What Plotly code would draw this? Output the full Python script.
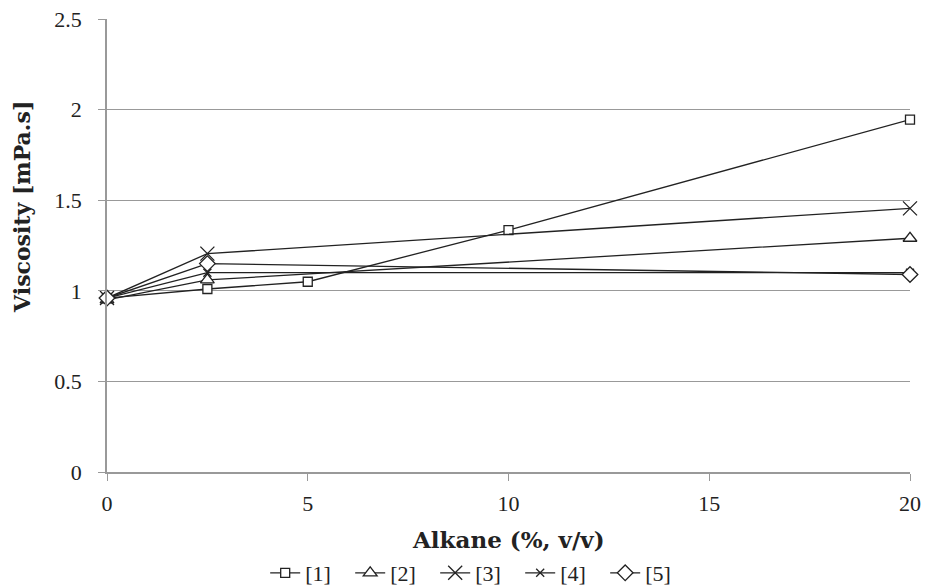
import plotly.graph_objects as go

x_full = [0, 2.5, 5, 10, 20]
x_short = [0, 2.5, 20]
s1 = [0.96, 1.01, 1.05, 1.335, 1.945]
s2 = [0.95, 1.06, 1.29]
s3 = [0.96, 1.205, 1.455]
s4 = [0.96, 1.10, 1.10]
s5 = [0.96, 1.15, 1.09]
names = ["[1]", "[2]", "[3]", "[4]", "[5]"]
y_ticks = [0, 0.5, 1, 1.5, 2, 2.5]
y_tick_text = ["0", "0.5", "1", "1.5", "2", "2.5"]
x_ticks = [0, 5, 10, 15, 20]
x_title = "<b>Alkane (%, v/v)</b>"
y_title = "<b>Viscosity [mPa.s]</b>"

FONT = "Liberation Serif"
TFONT = "DejaVu Serif"
LC = "#222222"

series = [
    (x_full, s1, names[0], "square", 9, "white"),
    (x_short, s2, names[1], "triangle-up", 12, "white"),
    (x_short, s3, names[2], "x-thin-open", 14, LC),
    (x_short, s4, names[3], "x-thin-open", 8, LC),
    (x_short, s5, names[4], "diamond", 12, "white"),
]

fig = go.Figure()
for xs, ys, nm, sym, sz, fc in series:
    fig.add_trace(go.Scatter(
        x=xs, y=ys, name=nm, mode="lines+markers", cliponaxis=False,
        line=dict(color=LC, width=1.3),
        marker=dict(symbol=sym, size=sz, color=fc,
                    line=dict(color=LC, width=1.3)),
    ))

fig.update_layout(
    width=925, height=588,
    margin=dict(l=107, r=15, t=19, b=116, autoexpand=False),
    paper_bgcolor="white", plot_bgcolor="white",
    font=dict(family=FONT, size=22, color="#222"),
    showlegend=True,
    legend=dict(orientation="h", x=0.197, xanchor="left", xref="paper",
                yref="paper", y=-0.223, yanchor="middle",
                entrywidth=40, entrywidthmode="pixels",
                font=dict(family=FONT, size=22), itemwidth=30, tracegroupgap=0),
    xaxis=dict(range=[0, 20], tickvals=x_ticks, showgrid=False, zeroline=False,
               showline=True, linecolor="#999", linewidth=1.5,
               ticks="outside", ticklen=7, tickcolor="#999", automargin=False,
               ticklabeloverflow="allow", ticklabelstandoff=4,
               tickfont=dict(family=FONT, size=22)),
    yaxis=dict(range=[0, 2.5], tickvals=y_ticks, ticktext=y_tick_text,
               showgrid=True, gridcolor="#999", gridwidth=1.2, zeroline=False,
               showline=True, linecolor="#999", linewidth=1.5,
               ticks="outside", ticklen=7, tickcolor="#999", automargin=False,
               ticklabeloverflow="allow", ticklabelstandoff=12,
               tickfont=dict(family=FONT, size=22)),
    annotations=[
        dict(text=y_title, textangle=-90,
             xref="paper", yref="paper", x=-0.106, y=0.585,
             xanchor="center", yanchor="middle", showarrow=False,
             font=dict(family=TFONT, size=22)),
        dict(text=x_title,
             xref="paper", yref="paper", x=0.5, y=-0.150,
             xanchor="center", yanchor="middle", showarrow=False,
             font=dict(family=TFONT, size=23)),
    ],
)

fig.write_html("out.html", config={"displayModeBar": False},
               post_script="document.body.style.margin='0';document.body.style.overflow='hidden';")
